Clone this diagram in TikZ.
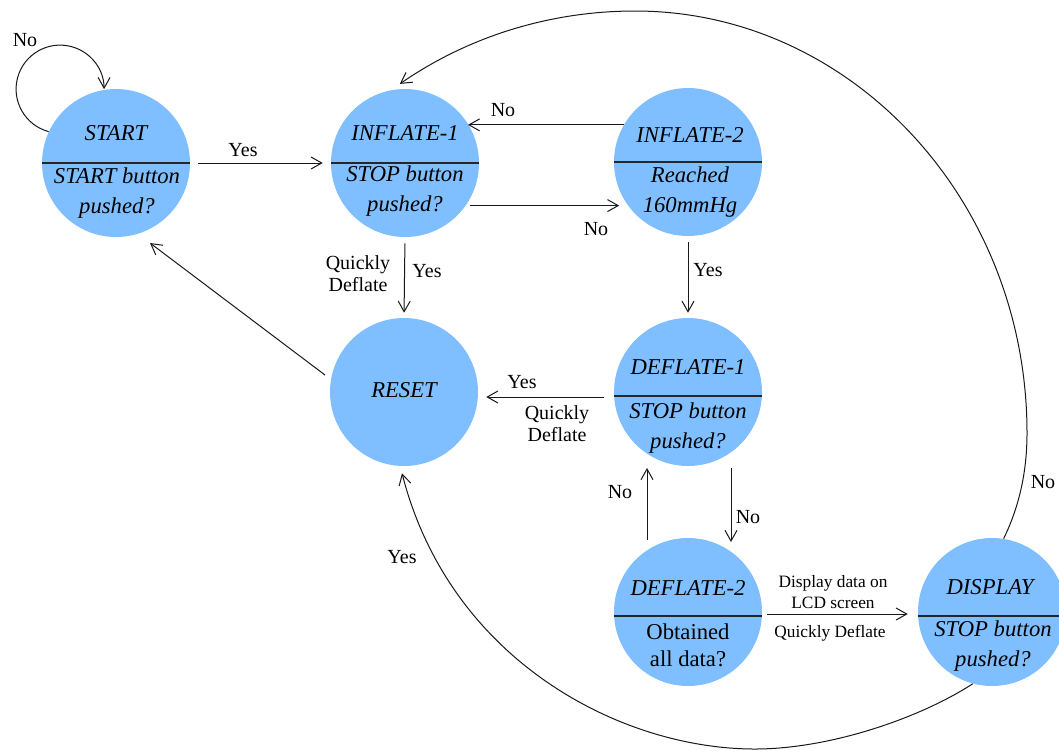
\documentclass[tikz,border=0pt]{standalone}
\usepackage{fontspec}
\setmainfont{Liberation Serif}
\usetikzlibrary{arrows.meta,calc}
\definecolor{stblue}{RGB}{128,191,255}
\begin{document}
\begin{tikzpicture}[x=0.75pt,y=0.75pt,
  state/.style={circle,fill=stblue,draw=none,minimum size=111pt,inner sep=0pt},
  ttl/.style={font=\fontsize{17}{22.5}\selectfont\itshape,align=center,inner sep=0pt},
  body/.style={font=\fontsize{17}{22.5}\selectfont\itshape,align=center,inner sep=0pt},
  bodyup/.style={font=\fontsize{17}{20}\selectfont,align=center,inner sep=0pt},
  lbl/.style={font=\fontsize{15}{16.5}\selectfont,align=center,inner sep=0pt},
  small/.style={font=\fontsize{13}{15.5}\selectfont,align=center,inner sep=0pt},
  arr/.style={-{Straight Barb[length=8pt,width=9pt]},line width=0.75pt,draw=black!90},
  divider/.style={line width=1.4pt,draw=black!85}
]
\useasboundingbox (0,0) rectangle (1059,-751);
\clip (0,0) rectangle (1059,-751);

% states
\node[state] (start) at (116,-163) {};
\node[state] (inf1)  at (405,-163) {};
\node[state] (inf2)  at (688,-162) {};
\node[state] (reset) at (404,-392) {};
\node[state] (def1)  at (688,-392) {};
\node[state] (def2)  at (688,-612) {};
\node[state] (disp)  at (992,-612) {};

% dividers
\draw[divider] (start.west) -- (start.east);
\draw[divider] (inf1.west) -- (inf1.east);
\draw[divider] (inf2.west) -- (inf2.east);
\draw[divider] ($(def1.west)+(0,-4)$) -- ($(def1.east)+(0,-4)$);
\draw[divider] ($(def2.west)+(0,-4)$) -- ($(def2.east)+(0,-4)$);
\draw[divider] ($(disp.west)+(0,-4)$) -- ($(disp.east)+(0,-4)$);

% state texts
\node[ttl]  (startT) at (116,-133) {START};
\node[body] (startB) at (117,-193) {START button\\pushed?};
\node[ttl]  (inf1T)  at (405,-133) {INFLATE-1};
\node[body] (inf1B)  at (405,-191) {STOP button\\pushed?};
\node[ttl]  (inf2T)  at (690,-135) {INFLATE-2};
\node[body] (inf2B)  at (690,-192) {Reached\\160mmHg};
\node[ttl]  (resetT) at (404,-390) {RESET};
\node[ttl]  (def1T)  at (688,-367) {DEFLATE-1};
\node[body] (def1B)  at (688,-428) {STOP button\\pushed?};
\node[ttl]  (def2T)  at (688,-588) {DEFLATE-2};
\node[bodyup] (def2B) at (688,-645) {Obtained\\all data?};
\node[ttl]  (dispT)  at (990,-587) {DISPLAY};
\node[body] (dispB)  at (993,-646) {STOP button\\pushed?};

% connectors
\draw[arr] (start.155) arc[start angle=255,end angle=0,radius=44];
\draw[arr] ($(start.east)+(8,0)$) -- ($(inf1.west)+(-8,0)$);
\draw[arr] (inf2.150) -- (inf2.150 -| inf1.32);
\draw[arr,shorten <=3pt,shorten >=6pt] (inf1.-35) -- (inf1.-35 -| inf2.215);
\draw[arr,shorten <=4.5pt,shorten >=3.75pt] (inf1.south) -- (reset.north);
\draw[arr,shorten <=4.5pt,shorten >=3.75pt] (inf2.south) -- (def1.north);
\draw[arr] ($(def1.west)+(-10,-5)$) -- ($(reset.east)+(8,-5)$);
\draw[arr] ($(reset.center)+(-79,17)$) -- ($(start.center)+(34,-80)$);
\draw[arr] ($(def2.center)+(-41,72)$) -- ($(def1.center)+(-41,-76)$);
\draw[arr] ($(def1.center)+(43,-76)$) -- ($(def2.center)+(43,70)$);
\draw[arr] ($(def2.east)+(5,-2)$) -- ($(disp.west)+(-10,-2)$);
\draw[arr] (disp.81) .. controls (1020,-505) and (1027,-470) .. (1027,-433)
  .. controls (1027,-200) and (851,-11) .. (635,-11)
  .. controls (551,-11) and (469,-36) .. ($(inf1.94)+(0,5)$);
\draw[arr] (disp.-105) .. controls (920,-718) and (830,-749) .. (755,-749)
  .. controls (620,-749) and (450,-660) .. ($(reset.south)+(-2,-7)$);

% labels
\node[lbl] (lNoLoop) at (25,-40) {No};
\node[lbl] (lYes1)   at (243,-150) {Yes};
\node[lbl] (lNo2)    at (503,-110) {No};
\node[lbl] (lNo3)    at (596,-229) {No};
\node[lbl] (lQD1)    at (358,-274) {Quickly\\Deflate};
\node[lbl] (lYes2)   at (427,-271) {Yes};
\node[lbl] (lYes3)   at (708,-270) {Yes};
\node[lbl] (lYes4)   at (522,-382) {Yes};
\node[lbl] (lQD2)    at (557,-424) {Quickly\\Deflate};
\node[lbl] (lNo4)    at (620,-492) {No};
\node[lbl] (lNo5)    at (748,-517) {No};
\node[small] (lDisp) at (833,-592) {Display data on\\LCD screen};
\node[small] (lQD3)  at (830,-633) {Quickly Deflate};
\node[lbl] (lNo6)    at (1043,-482) {No};
\node[lbl] (lYes5)   at (402,-557) {Yes};
\end{tikzpicture}
\end{document}
